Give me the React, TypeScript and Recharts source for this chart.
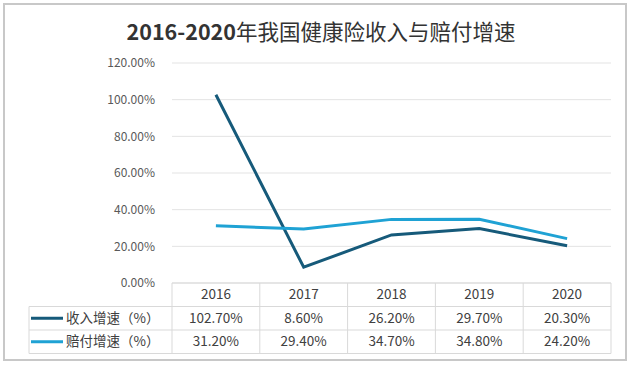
import React from "react";
import { LineChart, Line, XAxis, YAxis, CartesianGrid } from "recharts";

const years = ["2016", "2017", "2018", "2019", "2020"];
const incomeGrowth = [102.7, 8.6, 26.2, 29.7, 20.3];
const payoutGrowth = [31.2, 29.4, 34.7, 34.8, 24.2];
const yTicks = [0, 20, 40, 60, 80, 100, 120];
const seriesNames = ["收入增速（%）", "赔付增速（%）"];
const titleYears = "2016-2020";
const titleText = "年我国健康险收入与赔付增速";

const COLORS = ["#165a7a", "#1fa2d4"];
const GRID = "#d9d9d9";
const TEXT = "#404040";
const FONT = "'Noto Sans CJK SC', 'Noto Sans', sans-serif";

const data = years.map((y, i) => ({ year: y, income: incomeGrowth[i], payout: payoutGrowth[i] }));
const series = [incomeGrowth, payoutGrowth];

const W = 634;
const H = 368;
const PLOT_LEFT = 172;
const PLOT_RIGHT = 611;
const TABLE_LEFT = 29;
const ROW_H = 23.5;
const CELL = (PLOT_RIGHT - PLOT_LEFT) / years.length;

const TableTick = (props: any) => {
  const { x, y, payload, index } = props;
  const left = x - CELL / 2;
  const right = x + CELL / 2;
  const bottom = y + ROW_H * 3;
  return (
    <g>
      {index === 0 && (
        <g>
          {[1, 2, 3].map((r) => (
            <line key={r} x1={TABLE_LEFT} x2={PLOT_RIGHT} y1={y + ROW_H * r} y2={y + ROW_H * r} stroke={GRID} strokeWidth={1} />
          ))}
          <line x1={TABLE_LEFT} x2={TABLE_LEFT} y1={y + ROW_H} y2={bottom} stroke={GRID} strokeWidth={1} />
          {seriesNames.map((n, si) => (
            <g key={n}>
              <line x1={TABLE_LEFT + 2} x2={TABLE_LEFT + 34} y1={y + ROW_H * (si + 1.5)} y2={y + ROW_H * (si + 1.5)} stroke={COLORS[si]} strokeWidth={3} />
              <text x={TABLE_LEFT + 37} y={y + ROW_H * (si + 1.5)} dy="0.35em" fontSize={13.5} fill={TEXT} fontFamily={FONT}>
                {n}
              </text>
            </g>
          ))}
        </g>
      )}
      <line x1={left} x2={left} y1={y} y2={bottom} stroke={GRID} strokeWidth={1} />
      {index === years.length - 1 && <line x1={right} x2={right} y1={y} y2={bottom} stroke={GRID} strokeWidth={1} />}
      <text x={x} y={y + ROW_H * 0.5} dy="0.35em" textAnchor="middle" fontSize={13.5} fill={TEXT} fontFamily={FONT}>
        {payload.value}
      </text>
      {series.map((s, si) => (
        <text key={si} x={x} y={y + ROW_H * (si + 1.5)} dy="0.35em" textAnchor="middle" fontSize={13.5} fill={TEXT} fontFamily={FONT}>
          {s[index].toFixed(2) + "%"}
        </text>
      ))}
    </g>
  );
};

export default function App() {
  return (
    <div style={{ position: "absolute", left: 0, top: 0, width: W, height: H, background: "#fff" }}>
      <div
        style={{
          position: "absolute",
          left: 3,
          top: 3,
          width: 624,
          height: 358,
          border: "2px solid #c8c8c8",
          boxSizing: "border-box",
        }}
      />
      <div
        style={{
          position: "absolute",
          left: 0,
          top: 16,
          width: 642,
          textAlign: "center",
          fontSize: 21.5,
          color: "#333333",
          fontFamily: FONT,
          lineHeight: "30px",
        }}
      >
        <span style={{ fontWeight: "bold" }}>{titleYears}</span>
        <span style={{ fontWeight: 400 }}>{titleText}</span>
      </div>
      <LineChart width={W} height={H} data={data} margin={{ top: 63, right: W - PLOT_RIGHT, left: 0, bottom: 0 }}>
        <CartesianGrid vertical={false} stroke="#e3e3e3" />
        <XAxis
          dataKey="year"
          height={85}
          padding={{ left: CELL / 2, right: CELL / 2 }}
          axisLine={{ stroke: GRID }}
          tickLine={false}
          tickSize={0}
          tickMargin={0}
          interval={0}
          tick={<TableTick />}
        />
        <YAxis
          width={PLOT_LEFT}
          domain={[0, 120]}
          ticks={yTicks}
          axisLine={false}
          tickLine={false}
          tickMargin={11}
          tick={{ fontSize: 12, fill: "#595959", fontFamily: FONT }}
          tickFormatter={(v: number) => v.toFixed(2) + "%"}
        />
        <Line dataKey="income" stroke={COLORS[0]} strokeWidth={3} dot={false} isAnimationActive={false} />
        <Line dataKey="payout" stroke={COLORS[1]} strokeWidth={3} dot={false} isAnimationActive={false} />
      </LineChart>
    </div>
  );
}
